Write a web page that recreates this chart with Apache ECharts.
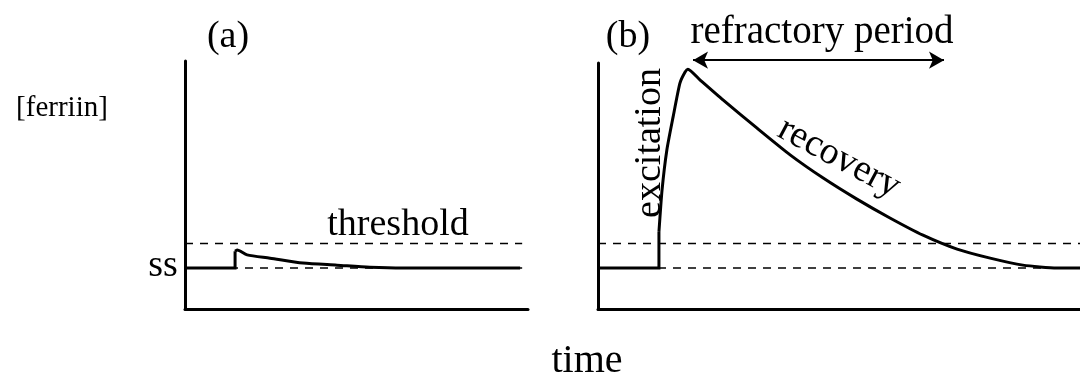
<!DOCTYPE html>
<html>
<head>
<meta charset="utf-8">
<script src="https://cdn.jsdelivr.net/npm/echarts@6/dist/echarts.min.js"></script>
<style>
  html, body { margin: 0; padding: 0; background: #fff; }
  #chart { width: 1080px; height: 377px; }
</style>
</head>
<body>
<div id="chart"></div>
<script>
// Reference levels of [ferriin]
const ssLevel = 1.0;
const thresholdLevel = 1.6;

// (a) sub-threshold perturbation: time and [ferriin]
const timeA    = [0, 1.46, 1.46, 1.52, 1.81, 2.48, 3.44, 4.43, 5.39, 6.36, 9.77];
const ferriinA = [1.0, 1.0, 1.41, 1.44, 1.32, 1.24, 1.12, 1.07, 1.02, 1.0, 1.0];

// (b) super-threshold perturbation: excitation then recovery
const timeB    = [0, 1.77, 1.77, 1.86, 2.00, 2.18, 2.38, 2.53, 2.61, 2.96, 3.63, 4.62, 5.58, 6.53, 7.52, 8.48, 9.44, 10.43, 11.39, 12.34, 13.33, 14.0];
const ferriinB = [1.0, 1.0, 1.88, 2.90, 3.88, 4.68, 5.51, 5.78, 5.85, 5.59, 5.10, 4.41, 3.76, 3.20, 2.68, 2.22, 1.80, 1.46, 1.24, 1.07, 1.0, 1.0];

// extent of the time axes and of the dashed reference lines
const timeMaxA = 10;
const timeMaxB = 14;
const dashEndA = 9.83;

// refractory period span (time in panel b) and the level where its arrow sits
const refractory = [2.76, 10.05];
const refractoryLevel = 6.07;

const panelLabels = ['(a)', '(b)'];

const pairs = (xs, ys) => xs.map((x, i) => [x, ys[i]]);

const serif = '"Liberation Serif", "Times New Roman", serif';
const axisLineStyle = { show: true, onZero: false, lineStyle: { color: '#000', width: 3 } };
const dashStyle = { color: '#000', width: 1.5, type: [8, 7] };
const traceStyle = { color: '#000', width: 3, join: 'miter' };

function valueAxis(gridIndex, min, max, show) {
  return {
    type: 'value', gridIndex, min, max, show,
    axisLine: axisLineStyle,
    axisTick: { show: false },
    axisLabel: { show: false },
    splitLine: { show: false }
  };
}

function dashed(idx, end, level) {
  return {
    type: 'line', xAxisIndex: idx, yAxisIndex: idx, z: 2,
    data: [[0, level], [end, level]],
    symbol: 'none', lineStyle: dashStyle, silent: true
  };
}

// the flat part and the jump are drawn straight, the rest of the trace smoothed
function trace(idx, points, jumpEnd, smooth) {
  return [
    {
      type: 'line', xAxisIndex: idx, yAxisIndex: idx, z: 3,
      data: points.slice(0, jumpEnd + 1), symbol: 'none', lineStyle: traceStyle
    },
    {
      type: 'line', xAxisIndex: idx, yAxisIndex: idx, z: 3,
      data: points.slice(jumpEnd), symbol: 'none', lineStyle: traceStyle,
      smooth: smooth
    }
  ];
}

function text(str, x, y, size, rotation) {
  return {
    type: 'text', x, y, rotation: rotation || 0, silent: true,
    style: {
      text: str, fill: '#000', font: size + 'px ' + serif,
      textAlign: 'center', textVerticalAlign: 'middle'
    }
  };
}

const chart = echarts.init(document.getElementById('chart'), null, { renderer: 'canvas' });

chart.setOption({
  animation: false,
  backgroundColor: '#fff',
  grid: [
    { left: 185, right: 552, top: 61, bottom: 68 },
    { left: 598, right: 0, top: 63, bottom: 68 },
    { left: 598, right: 0, top: 0, bottom: 68 }
  ],
  xAxis: [
    valueAxis(0, 0, timeMaxA, true),
    valueAxis(1, 0, timeMaxB, true),
    valueAxis(2, 0, timeMaxB, false)
  ],
  yAxis: [
    valueAxis(0, 0, 248 / 41, true),
    valueAxis(1, 0, 6, true),
    valueAxis(2, 0, 309 / 41, false)
  ],
  series: [
    dashed(0, dashEndA, thresholdLevel),
    dashed(0, dashEndA, ssLevel),
    dashed(1, timeMaxB, thresholdLevel),
    dashed(1, timeMaxB, ssLevel),
    ...trace(0, pairs(timeA, ferriinA), 2, 0.25),
    ...trace(1, pairs(timeB, ferriinB), 2, 0.2),
    {
      type: 'line', xAxisIndex: 2, yAxisIndex: 2, z: 3,
      data: [[refractory[0], refractoryLevel], [refractory[1], refractoryLevel]],
      symbol: 'none', lineStyle: { opacity: 0 },
      markLine: {
        silent: true, animation: false,
        symbol: ['arrow', 'arrow'], symbolSize: [13, 15],
        label: { show: false },
        lineStyle: { color: '#000', width: 2, type: 'solid' },
        emphasis: { disabled: true },
        data: [[
          { coord: [refractory[0], refractoryLevel] },
          { coord: [refractory[1], refractoryLevel] }
        ]]
      }
    }
  ],
  graphic: [
    text(panelLabels[0], 228, 37, 38),
    text(panelLabels[1], 628, 37, 38),
    text('refractory period', 822, 33, 39),
    text('threshold', 398, 225, 38),
    text('ss', 163, 266, 38),
    text('[ferriin]', 62, 108, 29),
    text('time', 587, 361, 40),
    text('excitation', 650, 143, 38, Math.PI / 2),
    text('recovery', 839, 158, 38, -28 * Math.PI / 180)
  ]
});
</script>
</body>
</html>
